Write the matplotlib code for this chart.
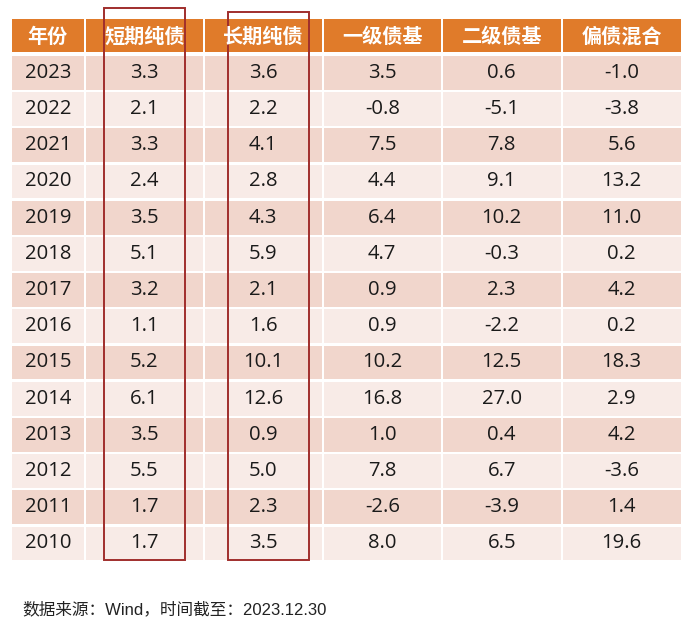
import matplotlib
matplotlib.use("Agg")
import matplotlib.pyplot as plt
from matplotlib.patches import Rectangle

plt.rcParams['font.family'] = ['Noto Sans CJK SC', 'DejaVu Sans']

# 表格数据
headers = ['年份', '短期纯债', '长期纯债', '一级债基', '二级债基', '偏债混合']
years = ['2023', '2022', '2021', '2020', '2019', '2018', '2017', '2016',
         '2015', '2014', '2013', '2012', '2011', '2010']
short_bond = ['3.3', '2.1', '3.3', '2.4', '3.5', '5.1', '3.2', '1.1',
              '5.2', '6.1', '3.5', '5.5', '1.7', '1.7']
long_bond = ['3.6', '2.2', '4.1', '2.8', '4.3', '5.9', '2.1', '1.6',
             '10.1', '12.6', '0.9', '5.0', '2.3', '3.5']
primary_fund = ['3.5', '-0.8', '7.5', '4.4', '6.4', '4.7', '0.9', '0.9',
                '10.2', '16.8', '1.0', '7.8', '-2.6', '8.0']
secondary_fund = ['0.6', '-5.1', '7.8', '9.1', '10.2', '-0.3', '2.3', '-2.2',
                  '12.5', '27.0', '0.4', '6.7', '-3.9', '6.5']
mixed_bond = ['-1.0', '-3.8', '5.6', '13.2', '11.0', '0.2', '4.2', '0.2',
              '18.3', '2.9', '4.2', '-3.6', '1.4', '19.6']
highlight_cols = [1, 2]
source = '数据来源：Wind，时间截至：2023.12.30'

columns = [years, short_bond, long_bond, primary_fund, secondary_fund, mixed_bond]

W, H = 693, 628
fig = plt.figure(figsize=(W / 100, H / 100), dpi=100)
ax = fig.add_axes([0, 0, 1, 1])
ax.set_xlim(0, W)
ax.set_ylim(H, 0)
ax.axis('off')

col_edges = [12, 86, 205, 324, 443, 563, 683]
top = 19
head_h = 33
y_start = 56
row_h = 36.2
gap = 2.5

header_color = '#E07B2A'
row_colors = ['#F1D6CC', '#F8EBE7']
num_font = ['Open Sans', 'Noto Sans CJK SC']

# 表头
for j, h in enumerate(headers):
    x0, x1 = col_edges[j], col_edges[j + 1]
    ax.add_patch(Rectangle((x0, top), x1 - x0 - gap, head_h,
                           facecolor=header_color, edgecolor='none'))
    ax.text((x0 + x1 - gap) / 2, top + head_h / 2 + 1, h, color='white',
            fontsize=14.5, fontweight='bold', ha='center', va='center')

# 数据行
for i in range(len(years)):
    y0 = y_start + i * row_h
    for j, col in enumerate(columns):
        x0, x1 = col_edges[j], col_edges[j + 1]
        ax.add_patch(Rectangle((x0, y0), x1 - x0 - gap, row_h - gap,
                               facecolor=row_colors[i % 2], edgecolor='none'))
        ax.text((x0 + x1 - gap) / 2, y0 + (row_h - gap) / 2, col[i],
                color='#1a1a1a', fontsize=14.6, family=num_font,
                ha='center', va='center')

# 红框
table_bottom = y_start + len(years) * row_h - gap
box_shift = [0, 5]
box_top = [8, 12]
for k, j in enumerate(highlight_cols):
    x0, x1 = col_edges[j], col_edges[j + 1]
    cx = (x0 + x1 - gap) / 2 + box_shift[k]
    ax.add_patch(Rectangle((cx - 40.5, box_top[k]), 81, table_bottom - box_top[k],
                           facecolor='none', edgecolor='#A02E2C', linewidth=1.4))

ax.text(22, 609, source, fontsize=12, color='#222222', ha='left', va='center',
        family=['Liberation Sans', 'Noto Sans CJK SC'])

fig.savefig('out.png', dpi=100, facecolor='white')
